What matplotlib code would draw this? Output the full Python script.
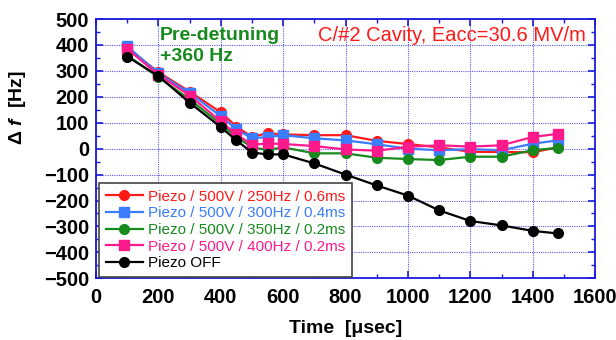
import numpy as np
import matplotlib.pyplot as plt
from matplotlib.ticker import MultipleLocator

# tiempos de medicion [usec]
tiempo = [100, 200, 300, 400, 450, 500, 550, 600, 700, 800, 900, 1000,
          1100, 1200, 1300, 1400, 1480]

# desintonia [Hz] para cada configuracion del piezo
df_250 = [388, 295, 220, 140, 85, 45, 60, 55, 52, 52, 30, 18, 5, -12, -13, -14, 5]
df_300 = [395, 290, 215, 125, 75, 40, 45, 52, 40, 32, 17, 0, -6, -2, -6, 19, 32]
df_350 = [360, 275, 190, 95, 45, 5, -5, 5, -18, -18, -35, -40, -44, -31, -31, -6, 3]
df_400 = [385, 285, 205, 105, 55, 15, 20, 18, 10, -3, -8, 7, 13, 8, 13, 45, 57]
df_off = [355, 280, 177, 83, 32, -15, -22, -22, -57, -100, -142, -181,
          -238, -279, -296, -317, -327]

etiquetas = ['Piezo / 500V / 250Hz / 0.6ms',
             'Piezo / 500V / 300Hz / 0.4ms',
             'Piezo / 500V / 350Hz / 0.2ms',
             'Piezo / 500V / 400Hz / 0.2ms',
             'Piezo OFF']

plt.rcParams['font.family'] = ['Liberation Sans', 'DejaVu Sans']
plt.rcParams['mathtext.fontset'] = 'custom'
plt.rcParams['mathtext.rm'] = 'Liberation Sans:bold'
plt.rcParams['mathtext.it'] = 'Liberation Sans:italic:bold'

fig = plt.figure(figsize=(6.16, 3.4), dpi=100)
ax = fig.add_axes([0.156, 0.1815, 0.81, 0.7625])

azul_eje = '#1a1adc'
series = [
    (df_250, '#ff1a1a', 'o'),
    (df_300, '#3a7dff', 's'),
    (df_350, '#178a1e', 'o'),
    (df_400, '#ff1a8c', 's'),
    (df_off, 'black', 'o'),
]
for (datos, color, marca), etiqueta in zip(series, etiquetas):
    ax.plot(tiempo, datos, color=color, marker=marca, markersize=7,
            linewidth=1.6, label=etiqueta)

ax.set_xlim(0, 1600)
ax.set_ylim(-500, 500)
ax.xaxis.set_major_locator(MultipleLocator(200))
ax.xaxis.set_minor_locator(MultipleLocator(100))
ax.yaxis.set_major_locator(MultipleLocator(100))
ax.yaxis.set_minor_locator(MultipleLocator(50))
ax.grid(True, which='major', color=azul_eje, linestyle=(0, (1, 1)), linewidth=0.8, alpha=0.7)
ax.tick_params(which='both', direction='in', top=True, right=True, color=azul_eje)
ax.tick_params(which='major', length=5, width=1.2, labelsize=14.5)
ax.tick_params(axis='y', which='major', pad=5)
ax.tick_params(axis='x', which='major', pad=7)
ax.tick_params(which='minor', length=3, width=1)
for lab in ax.get_xticklabels() + ax.get_yticklabels():
    lab.set_fontweight('bold')
for s in ax.spines.values():
    s.set_color(azul_eje)
    s.set_linewidth(1.3)

ax.set_xlabel('Time  [\u03bcsec]', fontsize=14, fontweight='bold', va='center')
ax.xaxis.set_label_coords(0.5, -0.193)
ax.set_ylabel('$\\Delta\\ f$  [Hz]', fontsize=14, fontweight='bold', va='center')
ax.yaxis.set_label_coords(-0.157, 0.66)

ax.text(205, 435, 'Pre-detuning', color='#178a1e', fontsize=14,
        fontweight='bold', va='center')
ax.text(205, 357, '+360 Hz', color='#178a1e', fontsize=14,
        fontweight='bold', va='center')
ax.text(1572, 435, 'C/#2 Cavity, Eacc=30.6 MV/m', color='#ff1a1a', fontsize=14.5,
        ha='right', va='center')

ley = ax.legend(loc='lower left', bbox_to_anchor=(0.006, 0.005), fontsize=11,
                fancybox=False, framealpha=1, edgecolor='#444444',
                handlelength=2.4, handletextpad=0.33, labelspacing=0.17,
                borderpad=0.45, borderaxespad=0)
ley.get_frame().set_linewidth(1.2)
for texto, (datos, color, marca) in zip(ley.get_texts(), series):
    texto.set_color(color)

fig.savefig('out.png', dpi=100)
